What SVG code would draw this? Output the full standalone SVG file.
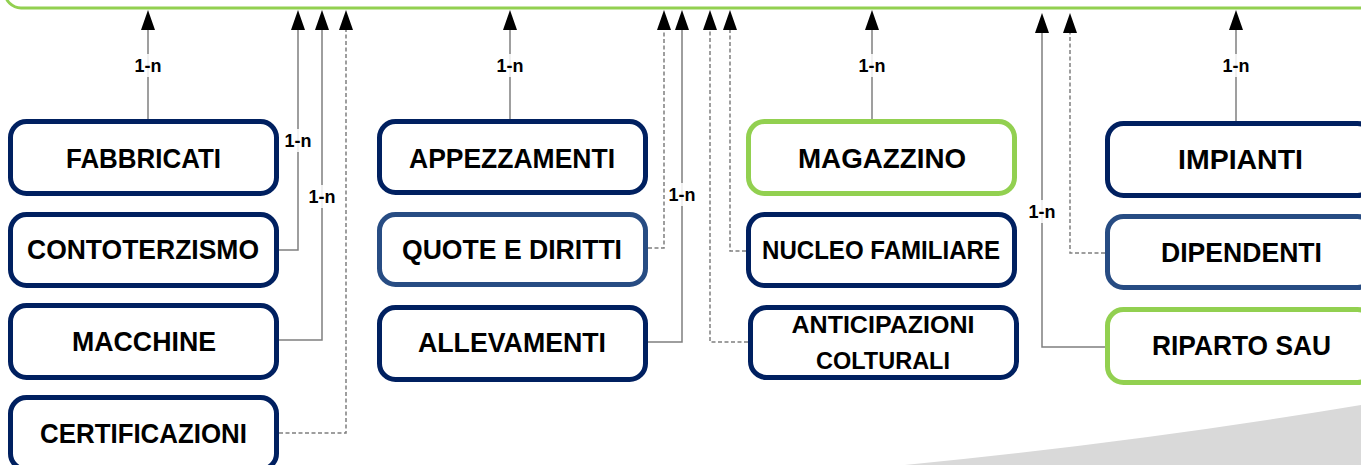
<svg xmlns="http://www.w3.org/2000/svg" width="1361" height="465" viewBox="0 0 1361 465">
<defs>
<style>
.bg{fill:#ffffff}
.node{fill:#ffffff;stroke-width:5}
.navy{stroke:#002060}
.mid{stroke:#274c83}
.green{stroke:#92d050}
.t{font-family:"Liberation Sans",Arial,sans-serif;font-weight:bold;fill:#000000;text-anchor:middle}
.t28{font-size:28.5px}
.t25{font-size:25px}
.t23{font-size:23px}
.lab{font-family:"Liberation Sans",Arial,sans-serif;font-weight:bold;font-size:18px;fill:#000000;text-anchor:middle}
.labbg{fill:#ffffff;opacity:0.85}
.c{fill:none;stroke:#7f7f7f;stroke-width:1.5}
.d{stroke-dasharray:4 2.5}
</style>
<marker id="ah" viewBox="0 0 20 14" markerWidth="20" markerHeight="14" refX="0" refY="7" orient="auto" markerUnits="userSpaceOnUse">
<path d="M0,0 L20,7 L0,14 Z" fill="#000000"/>
</marker>
</defs>
<rect class="bg" x="0" y="0" width="1361" height="465"/>
<path d="M905,465 Q1140,442 1361,405 L1361,465 Z" fill="#d9d9d9"/>

<g id="top-entity">
<rect x="5" y="-120" width="1400" height="128" rx="16" fill="#ffffff" stroke="#92d050" stroke-width="3"/>
</g>

<g id="connectors">
<path class="c" d="M148,119 V30" marker-end="url(#ah)"/>
<path class="c" d="M279,250 H298 V30" marker-end="url(#ah)"/>
<path class="c" d="M279,340 H322 V30" marker-end="url(#ah)"/>
<path class="c d" d="M279,433 H346 V30" marker-end="url(#ah)"/>
<path class="c" d="M510,119 V30" marker-end="url(#ah)"/>
<path class="c d" d="M648,248 H664 V30" marker-end="url(#ah)"/>
<path class="c" d="M648,342 H682 V30" marker-end="url(#ah)"/>
<path class="c d" d="M748,342 H710 V30" marker-end="url(#ah)"/>
<path class="c d" d="M746,251 H730 V30" marker-end="url(#ah)"/>
<path class="c" d="M872,119 V30" marker-end="url(#ah)"/>
<path class="c" d="M1105,347 H1042 V33" marker-end="url(#ah)"/>
<path class="c d" d="M1105,253 H1070 V33" marker-end="url(#ah)"/>
<path class="c" d="M1236,121 V30" marker-end="url(#ah)"/>
<rect class="labbg" x="132" y="54" width="32" height="23"/>
<text class="lab" x="148" y="72">1-n</text>
<rect class="labbg" x="494" y="54" width="32" height="23"/>
<text class="lab" x="510" y="72">1-n</text>
<rect class="labbg" x="856" y="54" width="32" height="23"/>
<text class="lab" x="872" y="72">1-n</text>
<rect class="labbg" x="1220" y="54" width="32" height="23"/>
<text class="lab" x="1236" y="72">1-n</text>
<rect class="labbg" x="282" y="129" width="32" height="23"/>
<text class="lab" x="298" y="147">1-n</text>
<rect class="labbg" x="306" y="185" width="32" height="23"/>
<text class="lab" x="322" y="203">1-n</text>
<rect class="labbg" x="666" y="183" width="32" height="23"/>
<text class="lab" x="682" y="201">1-n</text>
<rect class="labbg" x="1026" y="200" width="32" height="23"/>
<text class="lab" x="1042" y="218">1-n</text>
</g>

<g id="fabbricati">
<rect class="node navy" x="10.5" y="121.5" width="266" height="72" rx="16"/>
<text class="t t28" x="143.5" y="168" textLength="155" lengthAdjust="spacingAndGlyphs">FABBRICATI</text>
</g>
<g id="contoterzismo">
<rect class="node navy" x="10.5" y="214.5" width="266" height="71" rx="16"/>
<text class="t t28" x="143" y="259" textLength="232" lengthAdjust="spacingAndGlyphs">CONTOTERZISMO</text>
</g>
<g id="macchine">
<rect class="node navy" x="10.5" y="305.5" width="266" height="72" rx="16"/>
<text class="t t28" x="144" y="351" textLength="144" lengthAdjust="spacingAndGlyphs">MACCHINE</text>
</g>
<g id="certificazioni">
<rect class="node navy" x="10.5" y="397.5" width="266" height="72" rx="16"/>
<text class="t t28" x="143.5" y="443" textLength="207" lengthAdjust="spacingAndGlyphs">CERTIFICAZIONI</text>
</g>

<g id="appezzamenti">
<rect class="node navy" x="379.5" y="121.5" width="266" height="71" rx="16"/>
<text class="t t28" x="512" y="168" textLength="206" lengthAdjust="spacingAndGlyphs">APPEZZAMENTI</text>
</g>
<g id="quote-e-diritti">
<rect class="node mid" x="379.5" y="214.5" width="266" height="70" rx="16"/>
<text class="t t28" x="512" y="259" textLength="220" lengthAdjust="spacingAndGlyphs">QUOTE E DIRITTI</text>
</g>
<g id="allevamenti">
<rect class="node navy" x="379.5" y="307.5" width="266" height="72" rx="16"/>
<text class="t t28" x="512" y="352" textLength="188" lengthAdjust="spacingAndGlyphs">ALLEVAMENTI</text>
</g>

<g id="magazzino">
<rect class="node green" x="748.5" y="121.5" width="266" height="72" rx="16"/>
<text class="t t28" x="882" y="168" textLength="168" lengthAdjust="spacingAndGlyphs">MAGAZZINO</text>
</g>
<g id="nucleo-familiare">
<rect class="node navy" x="748.5" y="214.5" width="266" height="71" rx="16"/>
<text class="t t25" x="881" y="259" textLength="238" lengthAdjust="spacingAndGlyphs">NUCLEO FAMILIARE</text>
</g>
<g id="anticipazioni-colturali">
<rect class="node navy" x="750.5" y="307.5" width="266" height="70" rx="16"/>
<text class="t t23" x="883" y="333" textLength="183" lengthAdjust="spacingAndGlyphs">ANTICIPAZIONI</text>
<text class="t t23" x="883" y="369" textLength="134" lengthAdjust="spacingAndGlyphs">COLTURALI</text>
</g>

<g id="impianti">
<rect class="node navy" x="1107.5" y="123.5" width="266" height="72" rx="16"/>
<text class="t t28" x="1240.5" y="169" textLength="125" lengthAdjust="spacingAndGlyphs">IMPIANTI</text>
</g>
<g id="dipendenti">
<rect class="node mid" x="1107.5" y="216.5" width="266" height="71" rx="16"/>
<text class="t t28" x="1241.5" y="262" textLength="161" lengthAdjust="spacingAndGlyphs">DIPENDENTI</text>
</g>
<g id="riparto-sau">
<rect class="node green" x="1107.5" y="309.5" width="266" height="73" rx="16"/>
<text class="t t28" x="1241.5" y="355" textLength="179" lengthAdjust="spacingAndGlyphs">RIPARTO SAU</text>
</g>
</svg>
